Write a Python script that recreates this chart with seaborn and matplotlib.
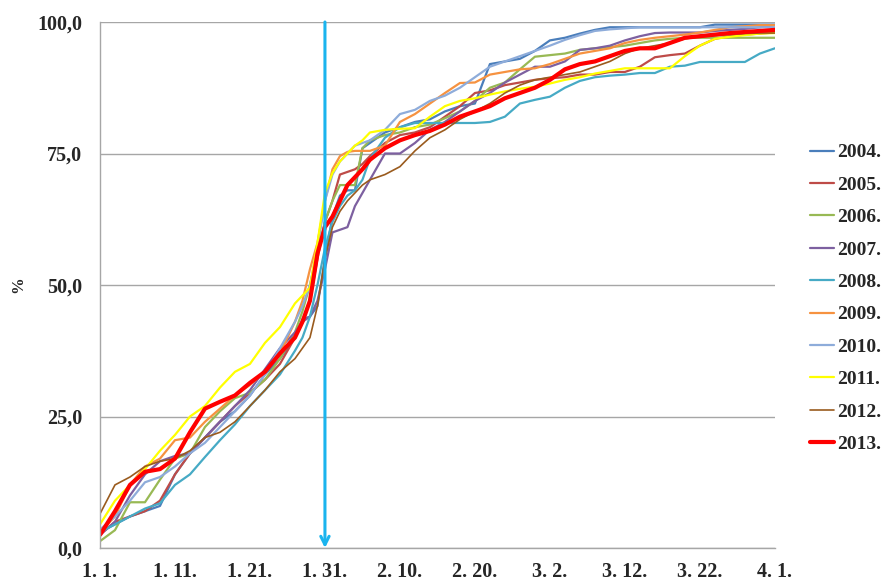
import numpy as np
import pandas as pd
import seaborn as sns
import matplotlib
matplotlib.use("Agg")
import matplotlib.pyplot as plt

# days since Jan 1 (0 = 1.1., 90 = 4.1.)
days = [0, 2, 4, 6, 8, 10, 12, 14, 16, 18, 20, 22, 24, 26,
        27, 28, 29, 30, 31, 32, 33, 34, 35,
        36, 38, 40, 42, 44, 46, 48, 50, 52, 54, 56, 58, 60, 62, 64, 66, 68,
        70, 72, 74, 76, 78, 80, 82, 84, 86, 88, 90]

y2004 = [3, 4.5, 6, 7, 8, 14, 18, 21, 24, 26, 29, 33, 36, 40,
         43.5, 44, 46, 55, 63, 67, 68, 68, 76,
         77, 79, 80, 81, 81.5, 83, 84, 84.5, 92, 92.5, 93, 94.5, 96.5, 97, 97.8, 98.5, 99,
         99, 99, 99, 99, 99, 99, 99.5, 99.5, 99.5, 99.5, 99.5]
y2005 = [2.5, 5, 6, 7, 9, 14, 18, 21, 24, 27, 29.5, 32, 35, 40,
         43, 47, 55, 62, 66, 71, 71.5, 72, 73,
         74.5, 77, 78.5, 79, 80, 82, 84, 86.5, 87, 88, 88.5, 89, 89.3, 89.5, 90, 90, 90.5,
         90.5, 91.5, 93.3, 93.7, 94, 95.5, 96.8, 97.3, 97.6, 97.8, 98]
y2006 = [1.3, 3.4, 8.7, 8.7, 13, 17, 18, 23, 26, 28.5, 29.5, 32, 36, 41,
         45, 50, 56, 62, 66, 69, 69, 69, 76,
         77.5, 78.5, 79, 80, 80.5, 81.7, 83, 85, 87.5, 88.5, 91, 93.4, 93.7, 94, 94.7, 95, 95.2,
         95.5, 96, 96.5, 96.8, 97, 97, 97, 97, 97, 97, 97]
y2007 = [2.5, 5, 10, 14, 16.5, 17.5, 18, 21, 24, 27, 30, 34, 38, 41,
         43, 44, 47, 53, 60, 60.5, 61, 65, 67.5,
         70, 75, 75, 77, 79.5, 81, 83, 85, 86.5, 88.5, 90, 91.5, 91.5, 92.5, 94.7, 95, 95.5,
         96.5, 97.3, 97.9, 98, 98, 98, 98.3, 98.5, 98.7, 99, 99.4]
y2008 = [3, 4.5, 6, 7.5, 8.5, 12, 14, 17.3, 20.5, 23.5, 27, 30, 33, 37.5,
         40, 44, 50, 57, 62, 65, 67, 68, 70,
         74, 78, 80, 80.8, 80.8, 80.8, 80.8, 80.8, 81, 82, 84.5, 85.2, 85.8, 87.5, 88.8, 89.5, 89.8,
         90, 90.3, 90.3, 91.5, 91.7, 92.4, 92.4, 92.4, 92.4, 94, 95]
y2009 = [3, 6, 12, 15.5, 17, 20.5, 21, 24, 26.5, 29, 31, 33.5, 37, 43,
         47, 53, 58, 66, 72, 74.5, 75.3, 75.5, 75.5,
         75.5, 76.5, 81, 82.5, 84.5, 86.5, 88.4, 88.5, 90, 90.5, 91, 91.2, 92, 93, 94, 94.5, 95,
         96, 96.6, 97, 97.3, 97.6, 98, 98.5, 99, 99.2, 99.4, 99.4]
y2010 = [3.5, 6, 9, 12.5, 13.5, 15.5, 18, 20, 23, 26, 29, 33, 38, 43,
         46, 50, 57, 66, 71, 73.5, 75, 76.5, 77,
         77.5, 79.5, 82.5, 83.3, 85, 86, 87.5, 89.5, 91.5, 92.5, 93.5, 94.5, 95.5, 96.6, 97.5, 98.3, 98.6,
         98.8, 99, 99, 99, 99, 99, 99, 99, 99, 99, 99]
y2011 = [4.5, 9, 12, 15, 18.5, 21.5, 25, 27, 30.5, 33.5, 35, 39, 42, 46.5,
         48, 49.5, 58, 67.5, 71.3, 73.5, 75, 76.5, 77.5,
         79, 79.5, 79.7, 79.8, 82, 84, 85, 85.5, 86.2, 86.8, 87.3, 87.7, 88.3, 89, 89.5, 90.2, 90.7,
         91.2, 91.2, 91.2, 91.2, 93.5, 95.5, 96.8, 97.2, 97.5, 97.8, 97.9]
y2012 = [6.5, 12, 13.5, 15.5, 16.5, 17, 18.5, 21, 22, 24, 27, 30, 33.5, 36,
         38, 40, 46, 55, 61, 64, 66, 67.5, 69,
         70, 71, 72.5, 75.5, 78, 79.5, 81.5, 83, 84.5, 86.5, 88, 89, 89.5, 90, 90.5, 91.5, 92.5,
         94, 95, 95.5, 96, 96.8, 97.2, 97.4, 97.6, 97.8, 97.9, 97.9]
y2013 = [2.5, 7, 12, 14.5, 15, 17, 22, 26.5, 27.8, 29, 31.4, 33.5, 37, 40,
         43, 47, 56, 61, 63, 66, 69, 70.5, 72,
         73.8, 76, 77.5, 78.5, 79.3, 80.5, 82, 83, 84, 85.5, 86.5, 87.5, 89, 91, 92, 92.5, 93.5,
         94.5, 95, 95, 96, 97, 97.3, 97.6, 97.9, 98.1, 98.3, 98.5]

years = ["2004.", "2005.", "2006.", "2007.", "2008.", "2009.", "2010.", "2011.", "2012.", "2013."]
series = [y2004, y2005, y2006, y2007, y2008, y2009, y2010, y2011, y2012, y2013]
colors = ["#4A7EBB", "#BE4B48", "#98B954", "#7D60A0", "#46AAC5",
          "#F69240", "#8EACDA", "#FFFF00", "#9A5B1E", "#FF0000"]
widths = [1.6, 1.6, 1.6, 1.6, 1.6, 1.6, 1.6, 1.6, 1.2, 3.0]

x_ticks = [0, 10, 20, 30, 40, 50, 60, 70, 80, 90]
x_tick_labels = ["1. 1.", "1. 11.", "1. 21.", "1. 31.", "2. 10.",
                 "2. 20.", "3. 2.", "3. 12.", "3. 22.", "4. 1."]
y_ticks = [0, 25, 50, 75, 100]
y_tick_labels = ["0,0", "25,0", "50,0", "75,0", "100,0"]
arrow_day = 30

sns.set_style("white")
plt.rcParams['font.family'] = ['Liberation Serif', 'DejaVu Serif']
plt.rcParams['font.weight'] = 'bold'

fig = plt.figure(figsize=(8.88, 5.85), dpi=100)
ax = fig.add_axes([0.1126, 0.0632, 0.76, 0.8992])

for name, vals, c, w in zip(years, series, colors, widths):
    df = pd.DataFrame({"day": days, "pct": vals})
    sns.lineplot(data=df, x="day", y="pct", color=c, linewidth=w, label=name, ax=ax)

ax.annotate("", xy=(arrow_day, 0), xytext=(arrow_day, 100),
            arrowprops=dict(arrowstyle="->,head_length=0.6,head_width=0.3",
                            color="#1AB4EE", lw=2.2, shrinkA=0, shrinkB=0))

ax.set_xlim(0, 90)
ax.set_ylim(0, 100)
ax.set_xticks(x_ticks)
ax.set_xticklabels(x_tick_labels, fontsize=14.5, fontweight='bold')
ax.set_yticks(y_ticks)
ax.set_yticklabels(y_tick_labels, fontsize=14.5, fontweight='bold')
ax.yaxis.grid(True, color="#A6A6A6", lw=1)
ax.xaxis.grid(False)
ax.set_xlabel("")
ax.set_ylabel("%", fontsize=12, fontweight='bold', labelpad=8)
for s in ["top", "right"]:
    ax.spines[s].set_visible(False)
for s in ["left", "bottom"]:
    ax.spines[s].set_color("#A6A6A6")
    ax.spines[s].set_linewidth(1)
ax.tick_params(axis='both', which='both', direction='out', length=4, width=1)
ax.tick_params(axis='y', pad=9)
ax.tick_params(axis='x', pad=6)
for t in ax.get_xticklines() + ax.get_yticklines():
    t.set_color("#A6A6A6")

ax.get_legend().remove()
h, l = ax.get_legend_handles_labels()
fig.legend(h, l, loc="center left", bbox_to_anchor=(0.892, 0.49), frameon=False,
           handlelength=1.25, handletextpad=0.15, labelspacing=0.76,
           prop={'weight': 'bold', 'size': 14})

fig.savefig("out.png", dpi=100)
